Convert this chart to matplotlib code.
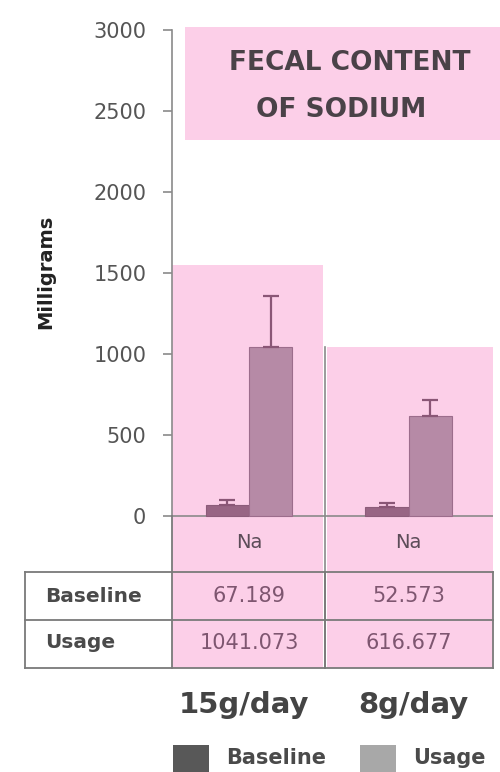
import matplotlib
matplotlib.use("Agg")
import matplotlib.pyplot as plt
import matplotlib.transforms as mtransforms
from matplotlib.patches import Rectangle
from matplotlib.lines import Line2D

# ── Data ──────────────────────────────────────────────────────────────────
GROUPS = ["15g/day", "8g/day"]
ELEMENT = "Na"
SERIES = ["Baseline", "Usage"]
BASELINE = [67.189, 52.573]
USAGE = [1041.073, 616.677]
BASELINE_ERR = [32, 28]
USAGE_ERR = [317, 100]
YTICKS = [0, 500, 1000, 1500, 2000, 2500, 3000]

# ── Style ─────────────────────────────────────────────────────────────────
PINK = "#fccfe8"
BAR_BASE = "#986584"
BAR_USE = "#b68aa6"
ERR_COL = "#8a5676"
GRID_GREY = "#8a8a8a"
TEXT_GREY = "#555555"

W, H = 500, 772
fig = plt.figure(figsize=(W / 100, H / 100), dpi=100)
fig.patch.set_facecolor("white")

# pixel transform (origin top-left) for the table / legend furniture
px = mtransforms.Affine2D().scale(1 / W, -1 / H).translate(0, 1) + fig.transFigure

# axes: x 172..493 px, y 30..668 px ; 0 mg at 516 px, 3000 mg at 30 px
scale = (516 - 30) / 3000
ymin = -(668 - 516) / scale
ax = fig.add_axes([172 / W, (H - 668) / H, (493 - 172) / W, (668 - 30) / H])
x0, x1 = 249, 408.5
unit = x1 - x0
ax.set_xlim((172 - x0) / unit, (493 - x0) / unit)
ax.set_ylim(ymin, 3000)
ax.patch.set_alpha(0)


def dx(p):
    return (p - x0) / unit


def dy(p):
    return (516 - p) / scale


# pink panels behind each group + title box
ax.add_patch(Rectangle((dx(172), ymin), dx(323) - dx(172), dy(265) - ymin,
                       facecolor=PINK, edgecolor="none", zorder=0, clip_on=False))
ax.add_patch(Rectangle((dx(327), ymin), dx(493) - dx(327), dy(347) - ymin,
                       facecolor=PINK, edgecolor="none", zorder=0, clip_on=False))
ax.add_patch(Rectangle((dx(185), dy(140)), dx(500) - dx(185), dy(27) - dy(140),
                       facecolor=PINK, edgecolor="none", zorder=0, clip_on=False))
ax.plot([dx(325), dx(325)], [ymin, dy(347)], color=GRID_GREY, lw=1.2, zorder=1,
        clip_on=False)

ax.text(dx(350), dy(63), "FECAL CONTENT", ha="center", va="center",
        fontsize=19, fontweight="bold", color="#4a4248")
ax.text(dx(341), dy(110), "OF SODIUM", ha="center", va="center",
        fontsize=19, fontweight="bold", color="#4a4248")

# bars
xs = list(range(len(GROUPS)))
bw = 0.27
ax.bar([x - bw / 2 for x in xs], BASELINE, width=bw, color=BAR_BASE,
       edgecolor="#8c5c7a", linewidth=0.8, zorder=3)
ax.bar([x + bw / 2 for x in xs], USAGE, width=bw, color=BAR_USE,
       edgecolor="#9c6d8c", linewidth=0.8, zorder=3)
ax.errorbar([x - bw / 2 for x in xs], BASELINE,
            yerr=[[0] * len(xs), BASELINE_ERR], fmt="none", ecolor=ERR_COL,
            elinewidth=1.6, capsize=6, capthick=1.6, zorder=4)
ax.errorbar([x + bw / 2 for x in xs], USAGE,
            yerr=[[0] * len(xs), USAGE_ERR], fmt="none", ecolor=ERR_COL,
            elinewidth=1.6, capsize=6, capthick=1.6, zorder=4)

ax.axhline(0, color=GRID_GREY, lw=1.2, zorder=2)

# axis styling
for s in ["top", "right", "bottom"]:
    ax.spines[s].set_visible(False)
ax.spines["left"].set_bounds(0, 3000)
ax.spines["left"].set_color(GRID_GREY)
ax.spines["left"].set_linewidth(1.2)
ax.set_yticks(YTICKS)
ax.set_yticklabels([str(v) for v in YTICKS])
ax.tick_params(axis="y", length=6.5, width=1.2, color=GRID_GREY,
               labelsize=15, labelcolor=TEXT_GREY, pad=12)
ax.set_xticks([])
ax.set_ylabel("Milligrams", fontsize=14, fontweight="bold", color="#222222")
ax.yaxis.set_label_coords((55 - 172) / (493 - 172),
                          (dy(272) - ymin) / (3000 - ymin))

# element row
for x in xs:
    ax.text(x, dy(543), ELEMENT, ha="center", va="center", fontsize=14,
            color="#5c4c58")

# table
tl = dict(color="#7a7a7a", lw=1.3, transform=px)
for yy in [572, 620, 668]:
    fig.add_artist(Line2D([25, 493], [yy, yy], **tl))
for xx in [25, 493]:
    fig.add_artist(Line2D([xx, xx], [572, 668], **tl))
fig.add_artist(Line2D([172, 172], [516, 668], **tl))
fig.add_artist(Line2D([325, 325], [572, 668], **tl))

rows = [("Baseline", BASELINE, 596), ("Usage", USAGE, 643)]
for label, vals, yy in rows:
    fig.text(45, yy, label, transform=px, ha="left", va="center",
             fontsize=14.5, fontweight="bold", color="#4a4a4a")
    for x, v in zip(xs, vals):
        ax.text(x, dy(yy), f"{v:.3f}", ha="center", va="center",
                fontsize=15, color="#7e5670")

# group labels
for x, g in zip([244, 413], GROUPS):
    fig.text(x, 705, g, transform=px, ha="center", va="center",
             fontsize=21, fontweight="bold", color="#444444")

# legend
for sx, col, label, tx in [(173, "#585858", SERIES[0], 226),
                           (360, "#a8a8a8", SERIES[1], 413)]:
    fig.add_artist(Rectangle((sx, 745), 36, 30, facecolor=col, edgecolor="none",
                             transform=px))
    fig.text(tx, 758, label, transform=px, ha="left", va="center",
             fontsize=15, fontweight="bold", color="#4a4a4a")

fig.savefig("out.png", dpi=100)
